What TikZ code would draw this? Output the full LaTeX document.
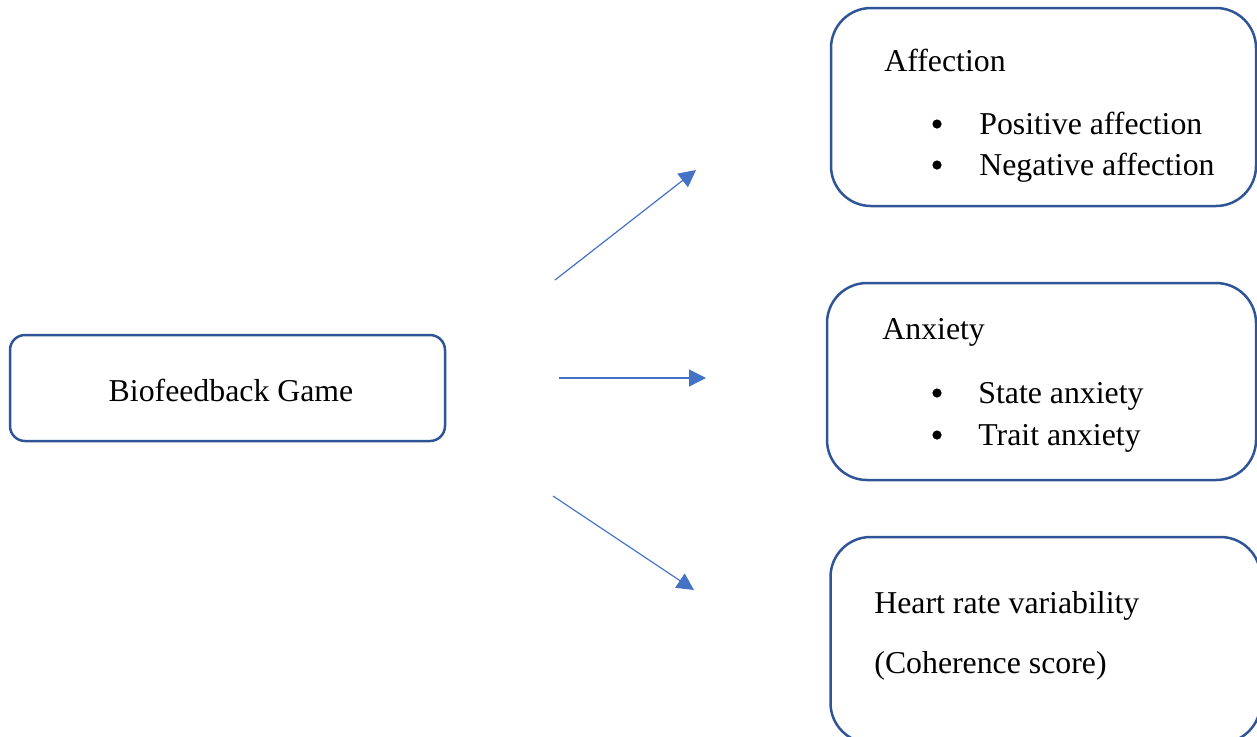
\documentclass[tikz,border=0pt]{standalone}
\usepackage{fontspec}
\setmainfont{Liberation Serif}
\usetikzlibrary{arrows.meta}
\definecolor{boxblue}{HTML}{2F5597}
\definecolor{arrowblue}{HTML}{4472C4}
\begin{document}
\begin{tikzpicture}[x=0.5pt,y=-0.5pt,
  box/.style={draw=boxblue, line width=1.25pt, rounded corners=20pt, minimum width=212.5pt, minimum height=99pt},
  txt/.style={anchor=base west, inner sep=0pt, font=\fontsize{15.9}{19}\selectfont},
  dot/.style={circle, fill=black, inner sep=0pt, minimum size=4.6pt},
  link/.style={draw=arrowblue, line width=0.6pt, -{Triangle[length=8.5pt,width=8.5pt]}}]
\useasboundingbox (0,0) rectangle (1257,736);
% boxes
\node[box, rounded corners=7.5pt, minimum width=217.5pt, minimum height=53pt] (game) at (227.5,388) {};
\node[box] (affect) at (1043.5,107) {};
\node[box, minimum width=214.5pt, minimum height=98.5pt] (anx) at (1041.5,381.5) {};
\node[box, minimum width=215pt, minimum height=103pt] (hrv) at (1045.5,640) {};
% texts
\node[txt, anchor=base] (gametxt) at (231,401) {Biofeedback Game};
\node[txt] (affecttxt) at (884,71) {Affection};
\node[dot] (b1) at (937,124) {};
\node[txt] (pos) at (979,134) {Positive affection};
\node[dot] (b2) at (937,165) {};
\node[txt] (neg) at (979,175) {Negative affection};
\node[txt] (anxtxt) at (882,339) {Anxiety};
\node[dot] (b3) at (937,393) {};
\node[txt] (state) at (978,403) {State anxiety};
\node[dot] (b4) at (937,435) {};
\node[txt] (trait) at (978,445) {Trait anxiety};
\node[txt] (hrvtxt) at (874,613) {Heart rate variability};
\node[txt] (coh) at (874,673) {(Coherence score)};
% arrows
\coordinate (s1) at (555,280);
\coordinate (e1) at (696,170);
\coordinate (s2) at (559,378);
\coordinate (e2) at (706,378);
\coordinate (s3) at (553,496);
\coordinate (e3) at (694,590);
\draw[link] (s1) -- (e1);
\draw[link] (s2) -- (e2);
\draw[link] (s3) -- (e3);
\end{tikzpicture}
\end{document}
